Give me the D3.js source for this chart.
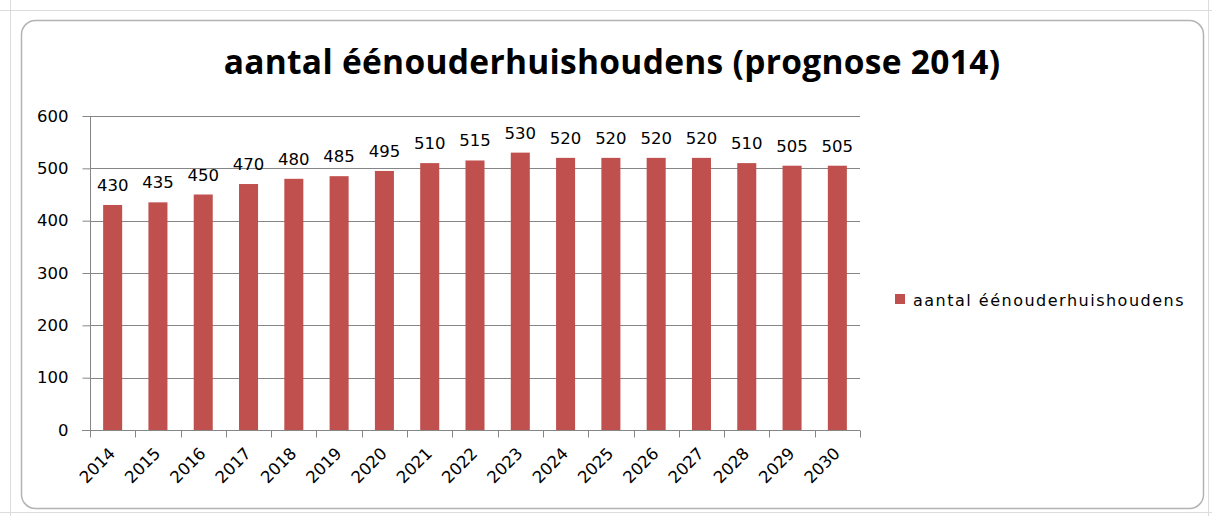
<!DOCTYPE html>
<html>
<head>
<meta charset="utf-8">
<script src="https://cdn.jsdelivr.net/npm/d3@7/dist/d3.min.js"></script>
<style>
  body { margin: 0; background: #fff; }
  svg { display: block; }
</style>
</head>
<body>
<svg id="chart" width="1212" height="516"></svg>
<script>
const years = ['2014', '2015', '2016', '2017', '2018', '2019', '2020', '2021', '2022',
  '2023', '2024', '2025', '2026', '2027', '2028', '2029', '2030'];
const households = [430, 435, 450, 470, 480, 485, 495, 510, 515, 530, 520, 520, 520, 520, 510, 505, 505];
const yTicks = [0, 100, 200, 300, 400, 500, 600];
const seriesName = 'aantal éénouderhuishoudens';
const titleText = 'aantal éénouderhuishoudens (prognose 2014)';

const width = 1212;
const height = 516;
const margin = { left: 90, right: 352, top: 116, bottom: 86 };
const barColor = '#c0504d';
const axisColor = '#868686';
const labelFont = '"DejaVu Sans", Verdana, sans-serif';

const svg = d3.select('#chart');

// spreadsheet behind the chart
svg.append('rect').attr('width', width).attr('height', height).attr('fill', '#ffffff');
const sheet = svg.append('g').attr('stroke', '#dadcdd').attr('stroke-width', 1);
[10, 512].forEach(function (yy) {
  sheet.append('line').attr('x1', 0).attr('x2', width).attr('y1', yy + 0.5).attr('y2', yy + 0.5);
});
[10, 1208].forEach(function (xx) {
  sheet.append('line').attr('x1', xx + 0.5).attr('x2', xx + 0.5).attr('y1', 0).attr('y2', height);
});

// chart area
svg.append('rect')
  .attr('x', 21.5).attr('y', 20.5)
  .attr('width', 1182).attr('height', 488)
  .attr('rx', 14).attr('ry', 14)
  .attr('fill', '#ffffff')
  .attr('stroke', '#b3b3b3')
  .attr('stroke-width', 1.5);

svg.append('text')
  .attr('x', 612)
  .attr('y', 74)
  .attr('text-anchor', 'middle')
  .style('font-family', '"Open Sans", Lato, sans-serif')
  .style('font-weight', 'bold')
  .style('font-size', '33.5px')
  .style('letter-spacing', '0.3px')
  .style('fill', '#000')
  .text(titleText);

const x = d3.scaleBand()
  .domain(years)
  .range([margin.left, width - margin.right])
  .paddingInner(0.58)
  .paddingOuter(0.29);

const y = d3.scaleLinear()
  .domain([0, 600])
  .range([height - margin.bottom, margin.top]);

// gridlines
svg.append('g')
  .selectAll('line')
  .data(yTicks.slice(1))
  .enter()
  .append('line')
  .attr('x1', margin.left)
  .attr('x2', width - margin.right)
  .attr('y1', function (d) { return Math.round(y(d)) + 0.5; })
  .attr('y2', function (d) { return Math.round(y(d)) + 0.5; })
  .attr('stroke', axisColor)
  .attr('stroke-width', 1);

// bars
svg.append('g')
  .selectAll('rect')
  .data(years)
  .enter()
  .append('rect')
  .attr('x', function (d) { return x(d); })
  .attr('y', function (d, i) { return y(households[i]); })
  .attr('width', x.bandwidth())
  .attr('height', function (d, i) { return y(0) - y(households[i]); })
  .attr('fill', barColor);

// value labels
svg.append('g')
  .selectAll('text')
  .data(years)
  .enter()
  .append('text')
  .attr('x', function (d) { return x(d) + x.bandwidth() / 2; })
  .attr('y', function (d, i) { return y(households[i]) - 14; })
  .attr('text-anchor', 'middle')
  .style('font-family', labelFont)
  .style('font-size', '16.5px')
  .style('fill', '#000')
  .text(function (d, i) { return households[i]; });

// y axis
const yAxis = svg.append('g')
  .attr('transform', 'translate(' + (margin.left + 0.5) + ',0)')
  .call(d3.axisLeft(y).tickValues(yTicks).tickSize(8).tickPadding(14));
yAxis.selectAll('line, path').attr('stroke', axisColor);
yAxis.select('.domain').attr('d', 'M0,' + y(600) + 'V' + y(0));
yAxis.selectAll('text')
  .style('font-family', labelFont)
  .style('font-size', '16.5px')
  .style('fill', '#000');

// x axis, ticks on category boundaries
const xAxisG = svg.append('g')
  .attr('transform', 'translate(0,' + (Math.round(y(0)) + 0.5) + ')');
xAxisG.append('line')
  .attr('x1', margin.left - 8).attr('x2', width - margin.right)
  .attr('stroke', axisColor);
const edgeScale = d3.scaleLinear()
  .domain([0, years.length])
  .range([margin.left, width - margin.right]);
xAxisG.selectAll('line.tick')
  .data(d3.range(years.length + 1))
  .enter()
  .append('line')
  .attr('class', 'tick')
  .attr('x1', function (i) { return Math.round(edgeScale(i)) + 0.5; })
  .attr('x2', function (i) { return Math.round(edgeScale(i)) + 0.5; })
  .attr('y1', 0).attr('y2', 7)
  .attr('stroke', axisColor);
xAxisG.selectAll('text')
  .data(years)
  .enter()
  .append('text')
  .attr('transform', function (d) {
    return 'translate(' + (x(d) + x.bandwidth() / 2 + 3.5) + ',24) rotate(-45)';
  })
  .attr('text-anchor', 'end')
  .style('font-family', labelFont)
  .style('font-size', '16.5px')
  .style('fill', '#000')
  .text(function (d) { return d; });

// legend
const legend = svg.append('g').attr('transform', 'translate(895,294)');
legend.append('rect').attr('width', 10).attr('height', 10).attr('fill', barColor);
legend.append('text')
  .attr('x', 18)
  .attr('y', 12)
  .style('font-family', labelFont)
  .style('font-size', '16px')
  .style('letter-spacing', '1.5px')
  .style('fill', '#000')
  .text(seriesName);
</script>
</body>
</html>
